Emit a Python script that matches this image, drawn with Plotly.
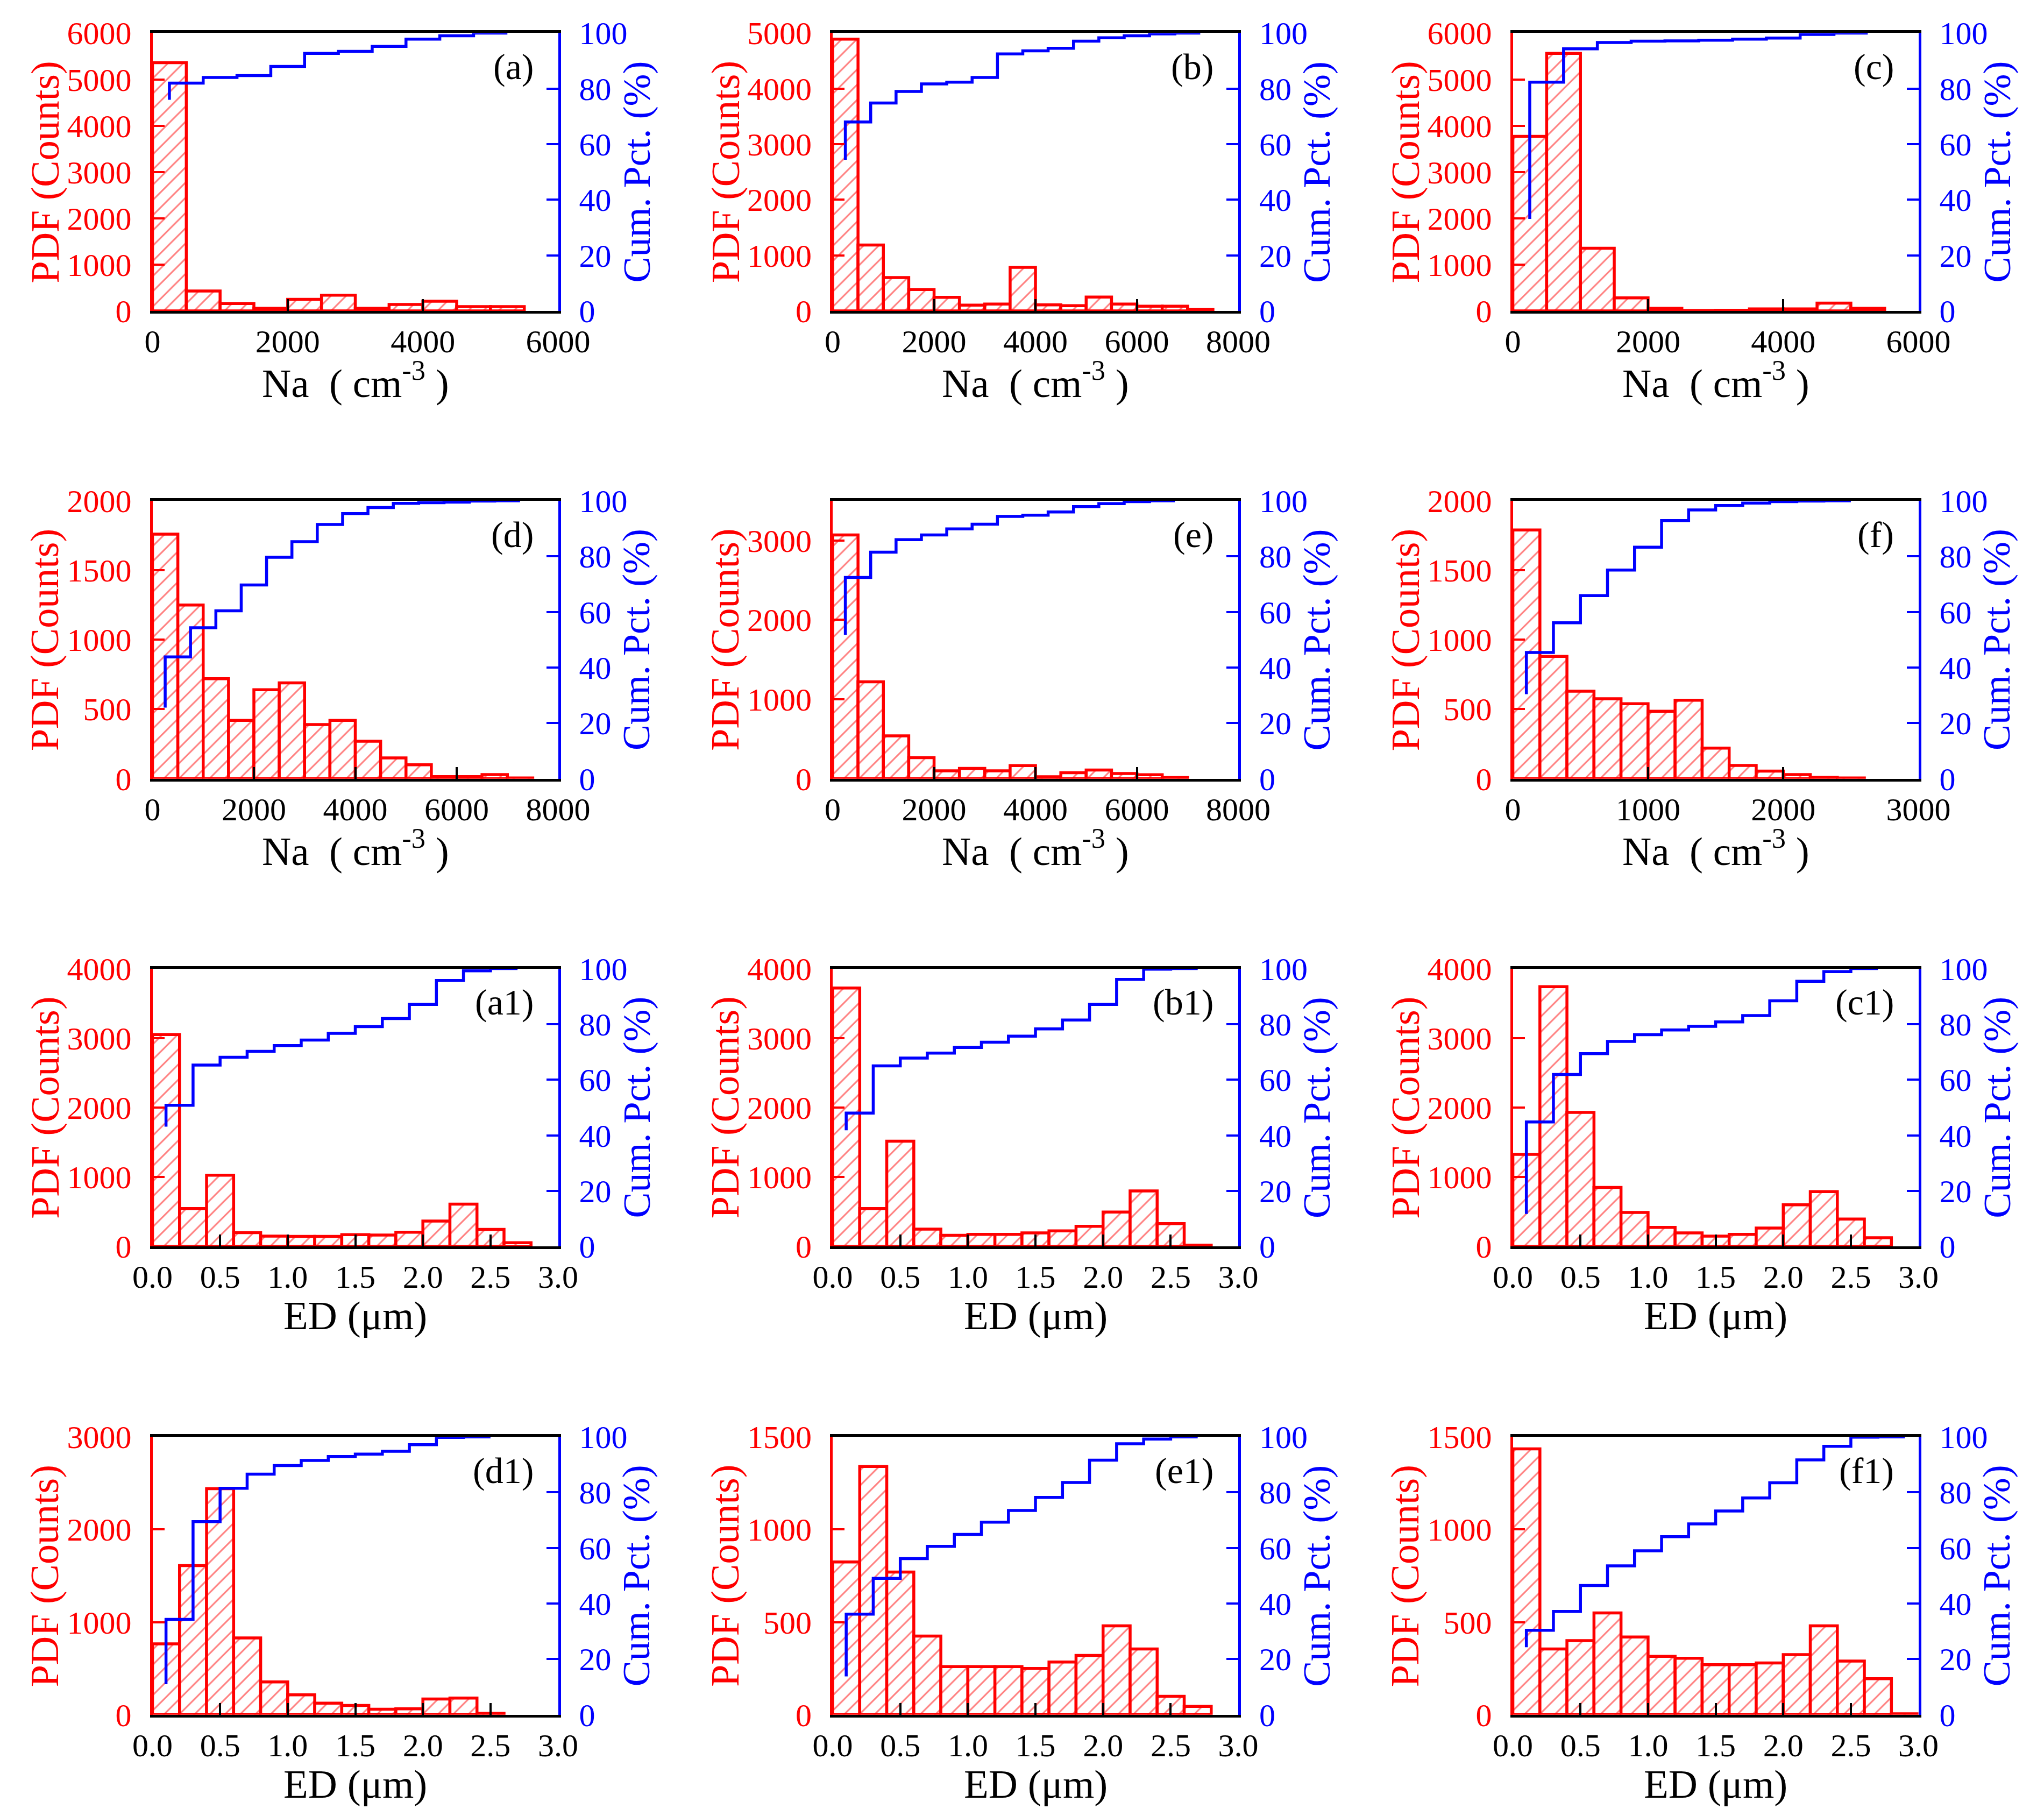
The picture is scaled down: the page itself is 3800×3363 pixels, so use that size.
import plotly.graph_objects as go

# ---------- bin centres ----------
na_bins = [250, 750, 1250, 1750, 2250, 2750, 3250, 3750, 4250, 4750, 5250, 5750, 6250, 6750, 7250]
na_f_bins = [100, 300, 500, 700, 900, 1100, 1300, 1500, 1700, 1900, 2100, 2300, 2500]
ed_bins = [0.1, 0.3, 0.5, 0.7, 0.9, 1.1, 1.3, 1.5, 1.7, 1.9, 2.1, 2.3, 2.5, 2.7, 2.9]

# ---------- Na 面板 (a)-(f) ----------
a_counts = [5360, 430, 160, 55, 250, 340, 55, 140, 210, 95, 95]
a_cum = [76, 82, 84, 84.7, 88, 92.7, 93.4, 95.2, 97.8, 99, 100]
b_counts = [4890, 1185, 600, 385, 245, 105, 125, 785, 110, 95, 250, 125, 85, 85, 24]
b_cum = [54.4, 68, 74.8, 79, 81.7, 82.3, 84, 92.5, 93.6, 94.5, 97.1, 98.3, 99, 99.7, 100]
c_counts = [3770, 5560, 1355, 282, 56, 10, 15, 45, 45, 170, 56]
c_cum = [33.1, 82.3, 94.3, 96.6, 97.1, 97.2, 97.4, 97.8, 98.2, 99.5, 100]
d_counts = [1760, 1250, 720, 420, 640, 690, 390, 420, 270, 150, 100, 15, 15, 30, 5]
d_cum = [25.6, 43.8, 54.3, 60.4, 69.7, 79.7, 85.3, 91.5, 95.4, 97.6, 99.1, 99.3, 99.5, 99.9, 100]
e_counts = [3070, 1220, 540, 265, 100, 130, 100, 165, 25, 75, 110, 65, 50, 15]
e_cum = [51.8, 72.4, 81.5, 86.0, 87.7, 89.9, 91.6, 94.4, 94.8, 96.0, 97.9, 99.0, 99.7, 100]
f_counts = [1790, 880, 630, 575, 540, 485, 565, 220, 95, 55, 30, 9, 5]
f_cum = [30.4, 45.4, 56.1, 65.9, 75.1, 83.3, 92.9, 96.7, 98.3, 99.2, 99.7, 99.9, 100]

# ---------- ED 面板 (a1)-(f1) ----------
a1_counts = [3050, 545, 1025, 200, 150, 145, 145, 170, 165, 205, 365, 610, 245, 55]
a1_cum = [43.1, 50.8, 65.3, 68.1, 70.2, 72.3, 74.3, 76.7, 79.1, 82.0, 87.1, 95.7, 99.2, 100]
b1_counts = [3720, 545, 1515, 250, 160, 175, 175, 195, 225, 290, 495, 800, 330, 20]
b1_cum = [41.8, 48.0, 65.0, 67.8, 69.6, 71.6, 73.5, 75.7, 78.3, 81.5, 87.1, 96.1, 99.8, 100]
c1_counts = [1325, 3740, 1930, 850, 490, 275, 195, 150, 175, 265, 600, 790, 395, 125]
c1_cum = [11.7, 44.8, 61.9, 69.4, 73.8, 76.2, 77.9, 79.2, 80.8, 83.1, 88.4, 95.4, 98.9, 100]
d1_counts = [765, 1610, 2440, 830, 355, 215, 125, 100, 60, 65, 170, 180, 15]
d1_cum = [11.0, 34.3, 69.5, 81.5, 86.6, 89.7, 91.5, 92.9, 93.8, 94.8, 97.2, 99.8, 100]
e1_counts = [825, 1340, 770, 425, 260, 260, 260, 250, 285, 320, 480, 355, 100, 45]
e1_cum = [13.8, 36.2, 49.1, 56.2, 60.6, 64.9, 69.3, 73.5, 78.2, 83.6, 91.6, 97.5, 99.2, 100]
f1_counts = [1435, 355, 400, 550, 420, 315, 305, 270, 270, 280, 325, 480, 290, 195, 5]
f1_cum = [24.3, 30.4, 37.2, 46.5, 53.6, 59.0, 64.1, 68.7, 73.3, 78.0, 83.5, 91.7, 96.6, 99.9, 100]

NA_TITLE = "Na  ( cm<sup>-3</sup> )"
ED_TITLE = "ED (μm)"

# label, bins, bin width, counts, cum, ymax, ydtick, xmax, xdtick, xtitle
panels = [
    ("(a)", na_bins, 500, a_counts, a_cum, 6000, 1000, 6000, 2000, NA_TITLE),
    ("(b)", na_bins, 500, b_counts, b_cum, 5000, 1000, 8000, 2000, NA_TITLE),
    ("(c)", na_bins, 500, c_counts, c_cum, 6000, 1000, 6000, 2000, NA_TITLE),
    ("(d)", na_bins, 500, d_counts, d_cum, 2000, 500, 8000, 2000, NA_TITLE),
    ("(e)", na_bins, 500, e_counts, e_cum, 3500, 1000, 8000, 2000, NA_TITLE),
    ("(f)", na_f_bins, 200, f_counts, f_cum, 2000, 500, 3000, 1000, NA_TITLE),
    ("(a1)", ed_bins, 0.2, a1_counts, a1_cum, 4000, 1000, 3.0, 0.5, ED_TITLE),
    ("(b1)", ed_bins, 0.2, b1_counts, b1_cum, 4000, 1000, 3.0, 0.5, ED_TITLE),
    ("(c1)", ed_bins, 0.2, c1_counts, c1_cum, 4000, 1000, 3.0, 0.5, ED_TITLE),
    ("(d1)", ed_bins, 0.2, d1_counts, d1_cum, 3000, 1000, 3.0, 0.5, ED_TITLE),
    ("(e1)", ed_bins, 0.2, e1_counts, e1_cum, 1500, 500, 3.0, 0.5, ED_TITLE),
    ("(f1)", ed_bins, 0.2, f1_counts, f1_cum, 1500, 500, 3.0, 0.5, ED_TITLE),
]

# ---------- 版面(像素) ----------
W, H = 3800, 3363
COL_L = [252, 1550, 2848]
ROW_T = [30, 917, 1804, 2692]
PW, PH = 774, 527
FONT = "Liberation Serif, Times New Roman, Times, serif"
RED, BLUE = "#FF0000", "#0000FF"

fig = go.Figure()
layout = {}
annotations = []

for i, (lab, bins, bw, counts, cum, ymax, ydt, xmax, xdt, xtitle) in enumerate(panels):
    r, c = divmod(i, 3)
    L, T = COL_L[c], ROW_T[r]
    xa = "x" if i == 0 else f"x{i+1}"
    yl = "y" if i == 0 else f"y{2*i+1}"
    yr = f"y{2*i+2}"
    n = len(counts)

    fig.add_trace(go.Bar(
        x=bins[:n], y=counts, width=bw, xaxis=xa, yaxis=yl,
        marker=dict(color="white", line=dict(color=RED, width=5.5),
                    pattern=dict(shape="/", fgcolor=RED, bgcolor="white", size=20, solidity=0.15)),
    ))
    fig.add_trace(go.Scatter(
        x=bins[:n], y=cum, mode="lines", xaxis=xa, yaxis=yr,
        line=dict(color=BLUE, width=5.5, shape="vh"),
    ))

    xd = [L / W, (L + PW) / W]
    yd = [1 - (T + PH) / H, 1 - T / H]
    xkey = "xaxis" if i == 0 else f"xaxis{i+1}"
    ylkey = "yaxis" if i == 0 else f"yaxis{2*i+1}"
    yrkey = f"yaxis{2*i+2}"

    layout[xkey] = dict(
        domain=xd, anchor=yl, range=[0, xmax], dtick=xdt, tick0=0,
        tickformat=".1f" if xmax < 10 else "d",
        ticks="inside", ticklen=22, tickwidth=4, tickcolor="black",
        showline=True, linecolor="black", linewidth=5, mirror=True,
        showgrid=False, zeroline=False, ticklabelstandoff=0,
        tickfont=dict(family=FONT, size=60, color="black"),
    )
    layout[ylkey] = dict(
        domain=yd, anchor=xa, range=[0, ymax], dtick=ydt, tick0=0,
        ticks="inside", ticklen=22, tickwidth=4, tickcolor=RED,
        showline=True, linecolor=RED, linewidth=5,
        showgrid=False, zeroline=False, ticklabelstandoff=22,
        tickfont=dict(family=FONT, size=60, color=RED),
    )
    layout[yrkey] = dict(
        domain=yd, anchor=xa, overlaying=yl, side="right", range=[0, 100], dtick=20,
        ticks="inside", ticklen=22, tickwidth=4, tickcolor=BLUE,
        showline=True, linecolor=BLUE, linewidth=5,
        showgrid=False, zeroline=False, ticklabelstandoff=22,
        tickfont=dict(family=FONT, size=60, color=BLUE),
    )

    ymid = 1 - (T + PH / 2) / H
    annotations += [
        dict(text="PDF (Counts)", x=(L - 205) / W, y=ymid, xref="paper", yref="paper",
             textangle=-90, showarrow=False, xanchor="center", yanchor="middle",
             font=dict(family=FONT, size=74, color=RED)),
        dict(text="Cum. Pct. (%)", x=(L + PW + 150) / W, y=ymid, xref="paper", yref="paper",
             textangle=-90, showarrow=False, xanchor="center", yanchor="middle",
             font=dict(family=FONT, size=72, color=BLUE)),
        dict(text=xtitle, x=(L + PW / 2) / W, y=1 - (T + PH + 131) / H, xref="paper", yref="paper",
             showarrow=False, xanchor="center", yanchor="middle",
             font=dict(family=FONT, size=75, color="black")),
        dict(text=lab, x=(L + PW - 45) / W, y=1 - (T + 64) / H, xref="paper", yref="paper",
             showarrow=False, xanchor="right", yanchor="middle",
             font=dict(family=FONT, size=68, color="black")),
    ]

fig.update_layout(
    width=W, height=H, margin=dict(l=0, r=0, t=0, b=0),
    paper_bgcolor="white", plot_bgcolor="white", showlegend=False,
    annotations=annotations, **layout,
)

fig.write_html("out.html", config={"displayModeBar": False},
               post_script="document.body.style.margin = '0px';")
